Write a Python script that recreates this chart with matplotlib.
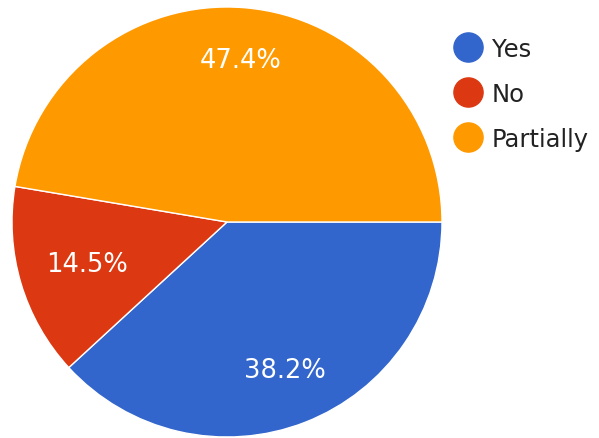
import numpy as np
import matplotlib.pyplot as plt
from matplotlib.lines import Line2D

plt.rcParams["font.family"] = ["DejaVu Sans"]

labels = ["Yes", "No", "Partially"]
shares = [38.2, 14.5, 47.4]
colors = ["#3366cc", "#dc3912", "#ff9900"]
# how far out each percentage sits (fraction of radius)
label_dist = [0.74, 0.68, 0.755]

fig = plt.figure(figsize=(5.99, 4.39), dpi=100)
ax = fig.add_axes([12 / 599, 1 / 439, 430 / 599, 430 / 439])

wedges, texts, autotexts = ax.pie(
    shares, colors=colors, startangle=0, counterclock=False,
    autopct="%.1f%%", pctdistance=0.73,
    wedgeprops=dict(edgecolor="white", linewidth=1.0),
    textprops=dict(color="white", fontsize=18.5))
ax.set_xlim(-1, 1)
ax.set_ylim(-1, 1)
ax.set_aspect("equal")

for w, t, d in zip(wedges, autotexts, label_dist):
    mid = np.deg2rad((w.theta1 + w.theta2) / 2)
    t.set_position((d * np.cos(mid), d * np.sin(mid)))

# legend with round markers
handles = [Line2D([], [], marker="o", linestyle="", markersize=21,
                  markerfacecolor=c, markeredgecolor=c) for c in colors]
fig.legend(handles, labels, loc="upper left", bbox_to_anchor=(446 / 599, 1 - 28 / 439),
           frameon=False, fontsize=17.5, labelcolor="#222222",
           handlelength=1.0, handletextpad=0.49, labelspacing=0.86, borderaxespad=0)

fig.savefig("out.png", dpi=100)
